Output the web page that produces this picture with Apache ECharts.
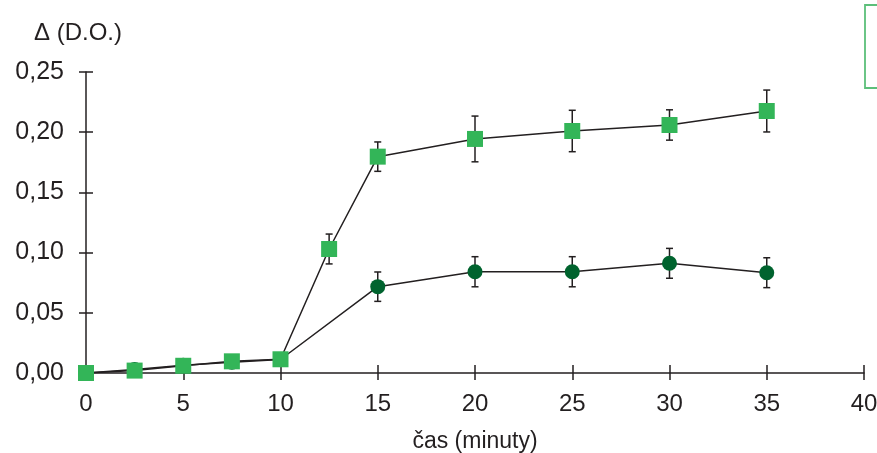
<!DOCTYPE html>
<html>
<head>
<meta charset="utf-8">
<style>html,body{margin:0;padding:0;background:#fff;}#c{width:877px;height:453px;}</style>
<script src="https://cdn.jsdelivr.net/npm/echarts@6/dist/echarts.min.js"></script>
</head>
<body>
<div id="c"></div>
<script>
// time (minutes)
const squareX = [0, 2.5, 5, 7.5, 10, 12.5, 15, 20, 25, 30, 35];
const squareY = [0, 0.002, 0.006, 0.0097, 0.0114, 0.103, 0.1797, 0.1944, 0.201, 0.206, 0.2176];
const squareErr = [0, 0, 0, 0, 0, 0.0124, 0.0122, 0.019, 0.0172, 0.0126, 0.0174];

const circleX = [0, 2.5, 5, 7.5, 10, 15, 20, 25, 30, 35];
const circleY = [0, 0.003, 0.0065, 0.009, 0.0112, 0.0717, 0.0841, 0.0841, 0.0911, 0.0833];
const circleErr = [0, 0, 0, 0, 0, 0.0122, 0.0125, 0.0125, 0.0124, 0.0124];

const xTicks = [0, 5, 10, 15, 20, 25, 30, 35, 40];
const yTicks = [0, 0.05, 0.10, 0.15, 0.20, 0.25];

const FONT = "'Liberation Sans', Arial, Helvetica, sans-serif";
const INK = '#231f20';

function pairs(xs, ys) { return xs.map((x, i) => [x, ys[i]]); }
function errData(xs, ys, es) {
  const out = [];
  xs.forEach((x, i) => { if (es[i] > 0) out.push([x, ys[i] - es[i], ys[i] + es[i]]); });
  return out;
}
function renderErr(params, api) {
  const x = api.value(0), lo = api.value(1), hi = api.value(2);
  const pHi = api.coord([x, hi]), pLo = api.coord([x, lo]);
  const w = 3.5;
  const st = { stroke: INK, lineWidth: 1.5 };
  return {
    type: 'group',
    children: [
      { type: 'line', shape: { x1: pHi[0], y1: pHi[1], x2: pLo[0], y2: pLo[1] }, style: st },
      { type: 'line', shape: { x1: pHi[0] - w, y1: pHi[1], x2: pHi[0] + w, y2: pHi[1] }, style: st },
      { type: 'line', shape: { x1: pLo[0] - w, y1: pLo[1], x2: pLo[0] + w, y2: pLo[1] }, style: st }
    ]
  };
}

const xMin = xTicks[0], xMax = xTicks[xTicks.length - 1], xInt = xTicks[1] - xTicks[0];
const yMin = yTicks[0], yMax = yTicks[yTicks.length - 1], yInt = yTicks[1] - yTicks[0];

const chart = echarts.init(document.getElementById('c'));
chart.setOption({
  animation: false,
  backgroundColor: '#fff',
  textStyle: { fontFamily: FONT },
  grid: { left: 86, right: 13, top: 72, bottom: 80, containLabel: false, outerBoundsMode: 'none' },
  xAxis: [
    {
      type: 'value', min: xMin, max: xMax, interval: xInt, position: 'bottom',
      name: 'čas (minuty)', nameLocation: 'middle', nameGap: 57,
      nameTextStyle: { fontSize: 23, color: INK, fontFamily: FONT },
      axisLine: { show: true, lineStyle: { color: INK, width: 1.5 } },
      axisTick: { show: true, inside: false, length: 7, lineStyle: { color: INK, width: 1.5 } },
      axisLabel: { fontSize: 24, color: INK, margin: 19, fontFamily: FONT },
      splitLine: { show: false }
    },
    {
      type: 'value', min: xMin, max: xMax, interval: xInt, position: 'bottom',
      axisLine: { show: false },
      axisTick: { show: true, inside: true, length: 8, lineStyle: { color: INK, width: 1.5 } },
      axisLabel: { show: false },
      splitLine: { show: false }
    }
  ],
  yAxis: [
    {
      type: 'value', min: yMin, max: yMax, interval: yInt, position: 'left',
      name: 'Δ (D.O.)', nameLocation: 'end', nameGap: 27,
      nameTextStyle: { fontSize: 24, color: INK, fontFamily: FONT, align: 'center', padding: [0, 16, 0, 0] },
      axisLine: { show: true, lineStyle: { color: INK, width: 1.5 } },
      axisTick: { show: true, inside: false, length: 7, lineStyle: { color: INK, width: 1.5 } },
      axisLabel: { fontSize: 25, color: INK, margin: 22, fontFamily: FONT, padding: [5, 0, 0, 0],
        formatter: v => v.toFixed(2).replace('.', ',') },
      splitLine: { show: false }
    },
    {
      type: 'value', min: yMin, max: yMax, interval: yInt, position: 'left',
      axisLine: { show: false },
      axisTick: { show: true, inside: true, length: 7, lineStyle: { color: INK, width: 1.5 } },
      axisLabel: { show: false },
      splitLine: { show: false }
    }
  ],
  graphic: [
    { type: 'rect', shape: { x: 865, y: 5, width: 40, height: 83 },
      style: { fill: 'none', stroke: '#5cbf7a', lineWidth: 1.8 } }
  ],
  series: [
    {
      type: 'custom', renderItem: renderErr, data: errData(circleX, circleY, circleErr),
      encode: { x: 0, y: [1, 2] }, z: 1, silent: true
    },
    {
      type: 'custom', renderItem: renderErr, data: errData(squareX, squareY, squareErr),
      encode: { x: 0, y: [1, 2] }, z: 1, silent: true
    },
    {
      type: 'line', data: pairs(circleX, circleY), z: 3,
      symbol: 'circle', symbolSize: 15, showAllSymbol: true,
      itemStyle: { color: '#00632e' },
      lineStyle: { color: INK, width: 1.5 }
    },
    {
      type: 'line', data: pairs(squareX, squareY), z: 4,
      symbol: 'rect', symbolSize: 16, showAllSymbol: true,
      itemStyle: { color: '#33b558' },
      lineStyle: { color: INK, width: 1.5 }
    }
  ]
});
</script>
</body>
</html>
